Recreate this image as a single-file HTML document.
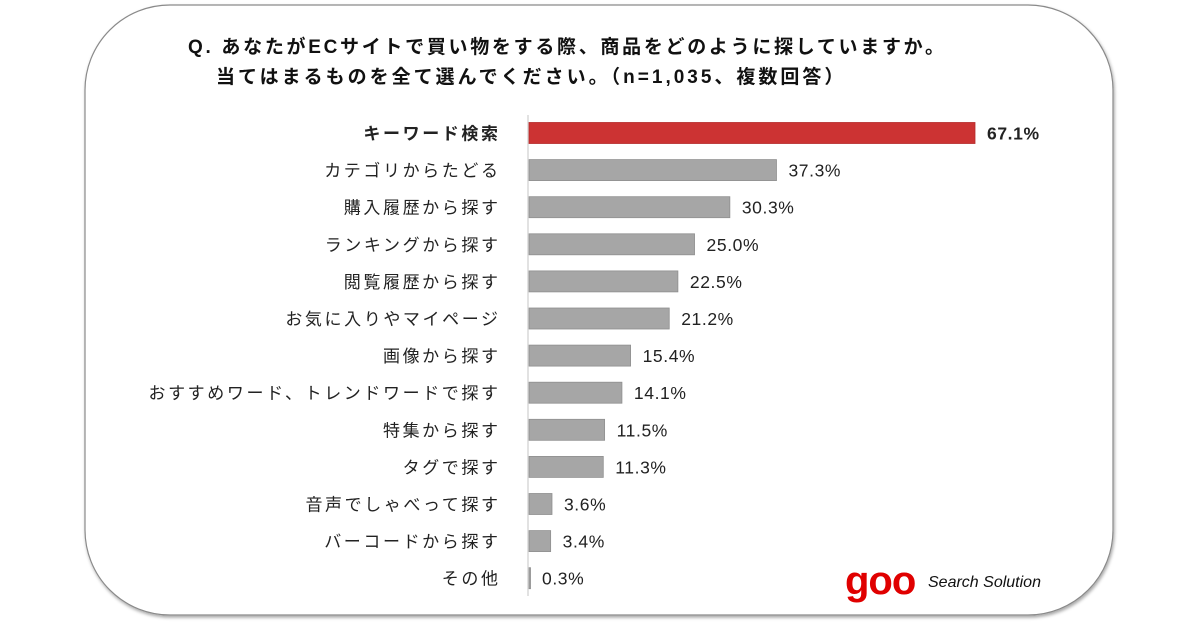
<!DOCTYPE html>
<html><head><meta charset="utf-8">
<style>
body{margin:0;width:1200px;height:630px;background:#fff;overflow:hidden;font-family:"Liberation Sans","Noto Sans CJK JP",sans-serif;}
svg text{font-family:"Liberation Sans","Noto Sans CJK JP",sans-serif;}
</style></head><body>
<svg id="chart" width="1200" height="630">
<defs><filter id="sh" x="-5%" y="-5%" width="110%" height="110%"><feDropShadow dx="1" dy="2" stdDeviation="1.5" flood-color="#000" flood-opacity="0.35"/></filter></defs>
<rect x="85" y="5" width="1028" height="610" rx="85" ry="85" fill="#fff" stroke="#8a8a8a" stroke-width="1.2" filter="url(#sh)"/>
<text x="188" y="53" font-size="19" font-weight="bold" fill="#111" letter-spacing="2.7">Q. あなたがECサイトで買い物をする際、商品をどのように探していますか。</text>
<text x="216" y="83" font-size="19" font-weight="bold" fill="#111" letter-spacing="3">当てはまるものを全て選んでください。（n=1,035、複数回答）</text>
<line x1="528" y1="115" x2="528" y2="596" stroke="#d9d9d9" stroke-width="1.5"/>
<g id="bars"></g>
<text x="845" y="594" font-size="40" font-weight="bold" fill="#e00000" letter-spacing="-1">goo</text>
<text x="928" y="587" font-size="16" font-style="italic" fill="#111">Search Solution</text>
</svg>
<script>
const categories=["キーワード検索","カテゴリからたどる","購入履歴から探す","ランキングから探す","閲覧履歴から探す","お気に入りやマイページ","画像から探す","おすすめワード、トレンドワードで探す","特集から探す","タグで探す","音声でしゃべって探す","バーコードから探す","その他"];
const values=[67.1,37.3,30.3,25.0,22.5,21.2,15.4,14.1,11.5,11.3,3.6,3.4,0.3];
const valueLabels=["67.1%","37.3%","30.3%","25.0%","22.5%","21.2%","15.4%","14.1%","11.5%","11.3%","3.6%","3.4%","0.3%"];
const NS="http://www.w3.org/2000/svg";
const x0=528,pxPer=447/67.1;
function xs(v){return x0+v*pxPer;}
function ys(i){return 133+i*37.1;}
const g=document.getElementById('bars');
categories.forEach((c,i)=>{
  const y=ys(i);
  const r=document.createElementNS(NS,'rect');
  r.setAttribute('x',x0+1);r.setAttribute('y',y-10.5);
  r.setAttribute('width',Math.max(xs(values[i])-x0-1,1.5));r.setAttribute('height',21);
  r.setAttribute('fill',i===0?'#cc3333':'#a6a6a6');
  r.setAttribute('stroke',i===0?'#b52a2a':'#8f8f8f');r.setAttribute('stroke-width','0.8');
  
  
  g.appendChild(r);
  const t=document.createElementNS(NS,'text');
  t.setAttribute('x',500.6);t.setAttribute('y',y+6.5);t.setAttribute('text-anchor','end');
  t.setAttribute('font-size','17');t.setAttribute('fill','#222');
  t.setAttribute('letter-spacing','2.6');
  if(i===0)t.setAttribute('font-weight','bold');
  t.textContent=c;
  
  
  g.appendChild(t);
  const v=document.createElementNS(NS,'text');
  v.setAttribute('x',xs(values[i])+12);v.setAttribute('y',y+6.5);
  v.setAttribute('font-size','17.5');v.setAttribute('fill','#222');
  v.setAttribute('letter-spacing','0.6');
  if(i===0)v.setAttribute('font-weight','bold');
  v.textContent=valueLabels[i];
  
  
  g.appendChild(v);
});
</script>
</body></html>
